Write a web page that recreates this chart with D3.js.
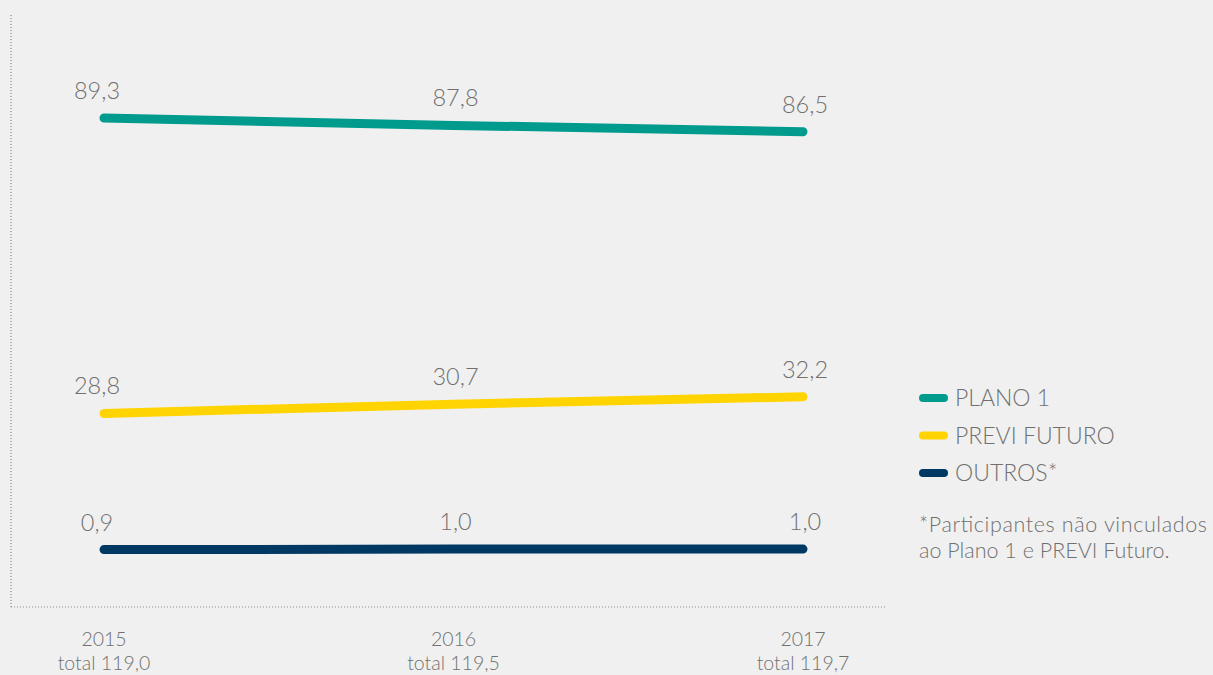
<!DOCTYPE html>
<html>
<head>
<meta charset="utf-8">
<script src="https://cdn.jsdelivr.net/npm/d3@7"></script>
<style>
  body { margin: 0; background: #f0f0f0; }
  svg { display: block; font-family: "Lato", sans-serif; font-weight: 300; }
</style>
</head>
<body>
<div id="chart"></div>
<script>
// data
var years = ["2015", "2016", "2017"];
var totals = ["total 119,0", "total 119,5", "total 119,7"];
var plano1 = [89.3, 87.8, 86.5];
var previFuturo = [28.8, 30.7, 32.2];
var outros = [0.9, 1.0, 1.0];
var seriesNames = ["PLANO 1", "PREVI FUTURO", "OUTROS*"];
var footnote = ["*Participantes não vinculados", "ao Plano 1 e PREVI Futuro."];

var colors = ["#009b8d", "#ffd400", "#003864"];
var textColor = "#707070";
// value labels sit a little off the points in the original
var labelShift = [-7, 2, 2];

var width = 1213, height = 675;

var svg = d3.select("#chart").append("svg")
    .attr("width", width)
    .attr("height", height);

// scales
var x = d3.scalePoint().domain(years).range([104, 803]);
var y = d3.scaleLinear().domain([0, 110]).range([554, 17]);

var fmt = function(v) { return d3.format(".1f")(v).replace(".", ","); };

// dotted axes
svg.append("line")
    .attr("x1", 11).attr("x2", 11)
    .attr("y1", 15).attr("y2", 607)
    .attr("stroke", "#8a8a8a")
    .attr("stroke-width", 1.2)
    .attr("stroke-dasharray", "1,2");

svg.append("line")
    .attr("x1", 11).attr("x2", 887)
    .attr("y1", 607).attr("y2", 607)
    .attr("stroke", "#8a8a8a")
    .attr("stroke-width", 1.2)
    .attr("stroke-dasharray", "1,2");

// x labels
var xl = svg.append("g").selectAll("text")
    .data(years)
    .enter().append("text")
    .attr("x", function(d) { return x(d); })
    .attr("y", 646)
    .attr("text-anchor", "middle")
    .attr("fill", textColor)
    .style("font-size", "19.5px");
xl.append("tspan").text(function(d) { return d; });
xl.append("tspan")
    .attr("x", function(d) { return x(d); })
    .attr("dy", 24)
    .text(function(d, i) { return totals[i]; });

var series = [plano1, previFuturo, outros];

var line = d3.line()
    .x(function(d, i) { return x(years[i]); })
    .y(function(d) { return y(d); });

// lines
svg.append("g").selectAll("path")
    .data(series)
    .enter().append("path")
    .attr("d", line)
    .attr("fill", "none")
    .attr("stroke", function(d, i) { return colors[i]; })
    .attr("stroke-width", 9)
    .attr("stroke-linecap", "round");

// value labels
series.forEach(function(s) {
    svg.append("g").selectAll("text")
        .data(s)
        .enter().append("text")
        .attr("x", function(d, i) { return x(years[i]) + labelShift[i]; })
        .attr("y", function(d) { return y(d) - 19; })
        .attr("text-anchor", "middle")
        .attr("fill", textColor)
        .style("font-size", "23.5px")
        .text(fmt);
});

// legend
var legend = svg.append("g").selectAll("g")
    .data(seriesNames)
    .enter().append("g")
    .attr("transform", function(d, i) { return "translate(923," + (398 + i * 37.5) + ")"; });

legend.append("line")
    .attr("x1", 0).attr("x2", 21)
    .attr("stroke", function(d, i) { return colors[i]; })
    .attr("stroke-width", 8)
    .attr("stroke-linecap", "round");

legend.append("text")
    .attr("x", 32)
    .attr("y", 8)
    .attr("fill", textColor)
    .style("font-size", "23px")
    .text(function(d) { return d; });

// footnote
svg.append("g").selectAll("text")
    .data(footnote)
    .enter().append("text")
    .attr("x", 919)
    .attr("y", function(d, i) { return 532 + i * 26; })
    .attr("fill", textColor)
    .style("font-size", "21.5px")
    .attr("textLength", function(d, i) { return i === 0 ? 288 : null; })
    .text(function(d) { return d; });
</script>
</body>
</html>
